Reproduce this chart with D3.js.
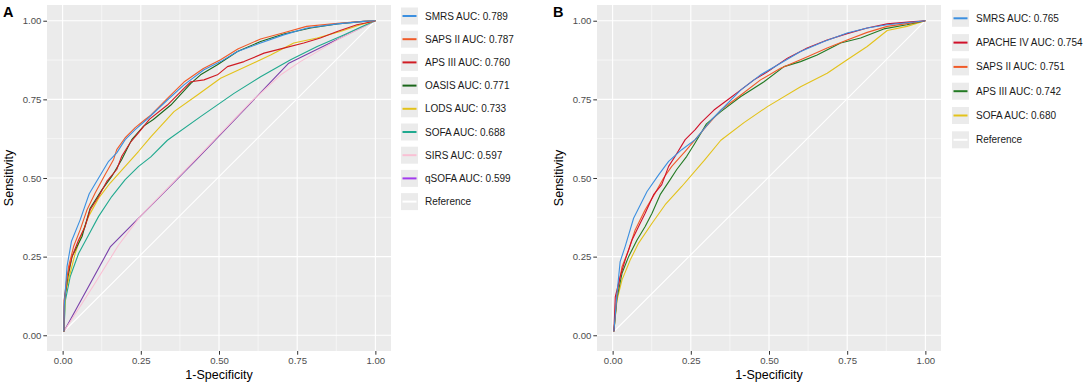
<!DOCTYPE html>
<html><head><meta charset="utf-8">
<script src="https://cdn.jsdelivr.net/npm/d3@7"></script>
<style>body{margin:0;background:#fff}svg{display:block}text{font-family:"Liberation Sans",Arial,Helvetica,sans-serif}</style>
</head><body><svg id="c" width="1084" height="384"></svg>
<script>
const tickValues=[0,0.25,0.5,0.75,1];
const tickLabels=["0.00","0.25","0.50","0.75","1.00"];
const minorValues=[0.125,0.375,0.625,0.875];
const xTitle="1-Specificity", yTitle="Sensitivity";

// Panel A
const labelsA=["SMRS AUC: 0.789","SAPS II AUC: 0.787","APS III AUC: 0.760","OASIS AUC: 0.771","LODS AUC: 0.733","SOFA AUC: 0.688","SIRS AUC: 0.597","qSOFA AUC: 0.599","Reference"];
const colorsA=["#3b8fe0","#f05a28","#d01c24","#1a661a","#e3c21a","#20a98f","#f9c0d4","#7a40aa"];
const keyColorsA=["#3b8fe0","#f05a28","#d01c24","#1a661a","#e3c21a","#20a98f","#f9c0d4","#a33bee"];
const smrsA=[[0.004,0.012],[0.005,0.09],[0.014,0.218],[0.028,0.298],[0.056,0.367],[0.085,0.45],[0.115,0.5],[0.147,0.553],[0.173,0.58],[0.2,0.622],[0.232,0.654],[0.269,0.686],[0.335,0.748],[0.388,0.796],[0.452,0.844],[0.505,0.87],[0.559,0.902],[0.633,0.929],[0.707,0.955],[0.782,0.977],[0.878,0.99],[0.963,0.998],[1,1]];
const sapsA=[[0.004,0.012],[0.006,0.112],[0.019,0.218],[0.035,0.282],[0.056,0.335],[0.078,0.399],[0.104,0.452],[0.136,0.511],[0.163,0.559],[0.173,0.59],[0.2,0.628],[0.232,0.66],[0.264,0.686],[0.282,0.70],[0.335,0.753],[0.388,0.805],[0.45,0.848],[0.505,0.876],[0.56,0.91],[0.633,0.942],[0.707,0.962],[0.78,0.982],[0.88,0.992],[0.96,0.998],[1,1]];
const apsA=[[0.004,0.012],[0.005,0.112],[0.014,0.186],[0.03,0.25],[0.051,0.303],[0.072,0.346],[0.088,0.399],[0.115,0.441],[0.141,0.489],[0.173,0.527],[0.189,0.569],[0.216,0.612],[0.243,0.644],[0.278,0.687],[0.335,0.732],[0.388,0.785],[0.41,0.806],[0.452,0.812],[0.495,0.828],[0.527,0.854],[0.58,0.87],[0.644,0.897],[0.707,0.913],[0.771,0.929],[0.824,0.945],[0.878,0.966],[0.941,0.987],[0.984,0.996],[1,1]];
const oasisA=[[0.004,0.012],[0.006,0.112],[0.017,0.186],[0.03,0.25],[0.062,0.314],[0.088,0.404],[0.126,0.463],[0.157,0.505],[0.189,0.559],[0.221,0.622],[0.259,0.665],[0.29,0.686],[0.346,0.732],[0.41,0.801],[0.441,0.828],[0.495,0.86],[0.559,0.902],[0.633,0.934],[0.707,0.958],[0.793,0.977],[0.878,0.99],[0.963,0.998],[1,1]];
const lodsA=[[0.004,0.012],[0.0085,0.133],[0.024,0.197],[0.04,0.26],[0.062,0.324],[0.083,0.378],[0.115,0.436],[0.152,0.484],[0.2,0.537],[0.243,0.585],[0.282,0.631],[0.356,0.711],[0.431,0.764],[0.505,0.817],[0.59,0.856],[0.665,0.891],[0.739,0.929],[0.814,0.945],[0.888,0.966],[0.952,0.987],[1,1]];
const sofaA=[[0.004,0.012],[0.009,0.112],[0.024,0.186],[0.051,0.26],[0.083,0.319],[0.115,0.378],[0.157,0.441],[0.2,0.495],[0.243,0.537],[0.282,0.567],[0.335,0.62],[0.441,0.695],[0.548,0.769],[0.633,0.822],[0.729,0.876],[0.814,0.918],[0.899,0.955],[0.963,0.984],[1,1]];
const sirsA=[[0.004,0.012],[0.1,0.16],[0.179,0.287],[0.248,0.378],[0.45,0.585],[0.6,0.74],[0.7,0.83],[0.76,0.87],[0.88,0.94],[1,1]];
const qsofaA=[[0.004,0.012],[0.153,0.282],[0.4255,0.556],[0.723,0.865],[1,1]];

// Panel B
const labelsB=["SMRS AUC: 0.765","APACHE IV AUC: 0.754","SAPS II AUC: 0.751","APS III AUC: 0.742","SOFA AUC: 0.680","Reference"];
const colorsB=["#3b8fe0","#d0102a","#f05a28","#237a23","#e3c21a"];
const smrsB=[[0.004,0.012],[0.014,0.133],[0.024,0.234],[0.04,0.282],[0.067,0.372],[0.11,0.457],[0.147,0.51],[0.179,0.553],[0.221,0.59],[0.264,0.622],[0.317,0.686],[0.41,0.78],[0.473,0.828],[0.537,0.865],[0.601,0.902],[0.676,0.934],[0.75,0.961],[0.814,0.977],[0.878,0.987],[0.963,0.996],[1,1]];
const apacheB=[[0.004,0.012],[0.0085,0.122],[0.024,0.186],[0.04,0.239],[0.062,0.303],[0.083,0.346],[0.104,0.388],[0.131,0.447],[0.157,0.479],[0.179,0.537],[0.2,0.569],[0.232,0.622],[0.264,0.654],[0.282,0.675],[0.324,0.716],[0.367,0.748],[0.41,0.78],[0.452,0.812],[0.495,0.838],[0.559,0.881],[0.622,0.913],[0.686,0.939],[0.75,0.959],[0.814,0.977],[0.878,0.99],[0.963,0.997],[1,1]];
const sapsB=[[0.004,0.012],[0.014,0.13],[0.03,0.218],[0.051,0.271],[0.072,0.335],[0.104,0.399],[0.136,0.452],[0.163,0.5],[0.189,0.537],[0.232,0.585],[0.264,0.622],[0.296,0.66],[0.346,0.716],[0.41,0.764],[0.473,0.812],[0.537,0.849],[0.612,0.881],[0.686,0.913],[0.75,0.939],[0.814,0.963],[0.878,0.982],[0.963,0.994],[1,1]];
const apsB=[[0.004,0.012],[0.014,0.12],[0.03,0.197],[0.051,0.25],[0.078,0.303],[0.104,0.346],[0.126,0.388],[0.152,0.447],[0.184,0.495],[0.205,0.527],[0.237,0.569],[0.264,0.612],[0.3,0.672],[0.346,0.711],[0.41,0.759],[0.484,0.806],[0.548,0.854],[0.601,0.87],[0.654,0.891],[0.729,0.929],[0.793,0.945],[0.867,0.974],[0.941,0.987],[1,1]];
const sofaB=[[0.004,0.012],[0.014,0.112],[0.03,0.176],[0.056,0.239],[0.083,0.293],[0.126,0.356],[0.168,0.415],[0.221,0.473],[0.293,0.556],[0.346,0.62],[0.42,0.676],[0.495,0.727],[0.601,0.79],[0.686,0.833],[0.75,0.876],[0.814,0.918],[0.878,0.969],[0.941,0.982],[1,1]];
const referenceLine=[[0.004,0.012],[1,1]];

const svg=d3.select("#c");
svg.append("rect").attr("width",1084).attr("height",384).attr("fill","#fff");

function panel(opt){
  const g=svg.append("g");
  const x=d3.scaleLinear().domain([-0.05,1.05]).range([opt.left,opt.left+344]);
  const y=d3.scaleLinear().domain([-0.05,1.05]).range([351,5]);
  g.append("rect").attr("x",x(-0.05)).attr("y",y(1.05)).attr("width",344).attr("height",346).attr("fill","#ebebeb");
  minorValues.forEach(v=>{
    g.append("line").attr("x1",x(v)).attr("x2",x(v)).attr("y1",y(-0.05)).attr("y2",y(1.05)).attr("stroke","#fff").attr("stroke-width",0.55);
    g.append("line").attr("y1",y(v)).attr("y2",y(v)).attr("x1",x(-0.05)).attr("x2",x(1.05)).attr("stroke","#fff").attr("stroke-width",0.55);
  });
  tickValues.forEach(v=>{
    g.append("line").attr("x1",x(v)).attr("x2",x(v)).attr("y1",y(-0.05)).attr("y2",y(1.05)).attr("stroke","#fff").attr("stroke-width",1.1);
    g.append("line").attr("y1",y(v)).attr("y2",y(v)).attr("x1",x(-0.05)).attr("x2",x(1.05)).attr("stroke","#fff").attr("stroke-width",1.1);
  });
  const line=d3.line().x(d=>x(d[0])).y(d=>y(d[1]));
  g.append("path").datum(referenceLine).attr("d",line).attr("fill","none").attr("stroke","#fff").attr("stroke-width",1.1);
  for(let i=opt.curves.length-1;i>=0;i--){
    g.append("path").datum(opt.curves[i]).attr("d",line).attr("fill","none").attr("stroke",opt.colors[i]).attr("stroke-width",1.1).attr("stroke-linejoin","round");
  }
  const ax=g.append("g").attr("transform",`translate(0,${y(-0.05)})`)
    .call(d3.axisBottom(x).tickValues(tickValues).tickFormat((d,i)=>tickLabels[i]).tickSize(3.7).tickPadding(2));
  const ay=g.append("g").attr("transform",`translate(${x(-0.05)},0)`)
    .call(d3.axisLeft(y).tickValues(tickValues).tickFormat((d,i)=>tickLabels[i]).tickSize(3.7).tickPadding(2));
  [ax,ay].forEach(a=>{a.select(".domain").remove();a.selectAll("line").attr("stroke","#333");a.selectAll("text").attr("fill","#4d4d4d").style("font-size","9.6px").style("font-family","'Liberation Sans',Arial,sans-serif");});
  g.append("text").attr("x",x(0.5)).attr("y",379).attr("text-anchor","middle").style("font-size","12.5px").attr("fill","#000").text(xTitle);
  g.append("text").attr("transform",`translate(${opt.left-34},${y(0.5)}) rotate(-90)`).attr("text-anchor","middle").style("font-size","12.5px").attr("fill","#000").text(yTitle);
  g.append("text").attr("x",opt.left-44).attr("y",17).style("font-size","14.5px").style("font-weight","bold").attr("fill","#000").text(opt.letter);
  // legend
  const lg=g.append("g");
  opt.labels.forEach((lab,i)=>{
    const cy=opt.legY0+i*opt.legStep;
    lg.append("rect").attr("x",opt.legX).attr("y",cy-8.5).attr("width",17).attr("height",17).attr("fill","#ebebeb");
    const col=i<opt.keyColors.length?opt.keyColors[i]:"#fff";
    lg.append("line").attr("x1",opt.legX+1.5).attr("x2",opt.legX+15.5).attr("y1",cy).attr("y2",cy).attr("stroke",col).attr("stroke-width",2);
    lg.append("text").attr("x",opt.legX+24).attr("y",cy).attr("dy","0.35em").style("font-size","10px").attr("fill","#1a1a1a").text(lab);
  });
}

panel({left:47,letter:"A",curves:[smrsA,sapsA,apsA,oasisA,lodsA,sofaA,sirsA,qsofaA],colors:colorsA,keyColors:keyColorsA,labels:labelsA,legX:401,legY0:16,legStep:23.2});
panel({left:597,letter:"B",curves:[smrsB,apacheB,sapsB,apsB,sofaB],colors:colorsB,keyColors:colorsB,labels:labelsB,legX:952,legY0:18.3,legStep:24.3});
</script></body></html>
